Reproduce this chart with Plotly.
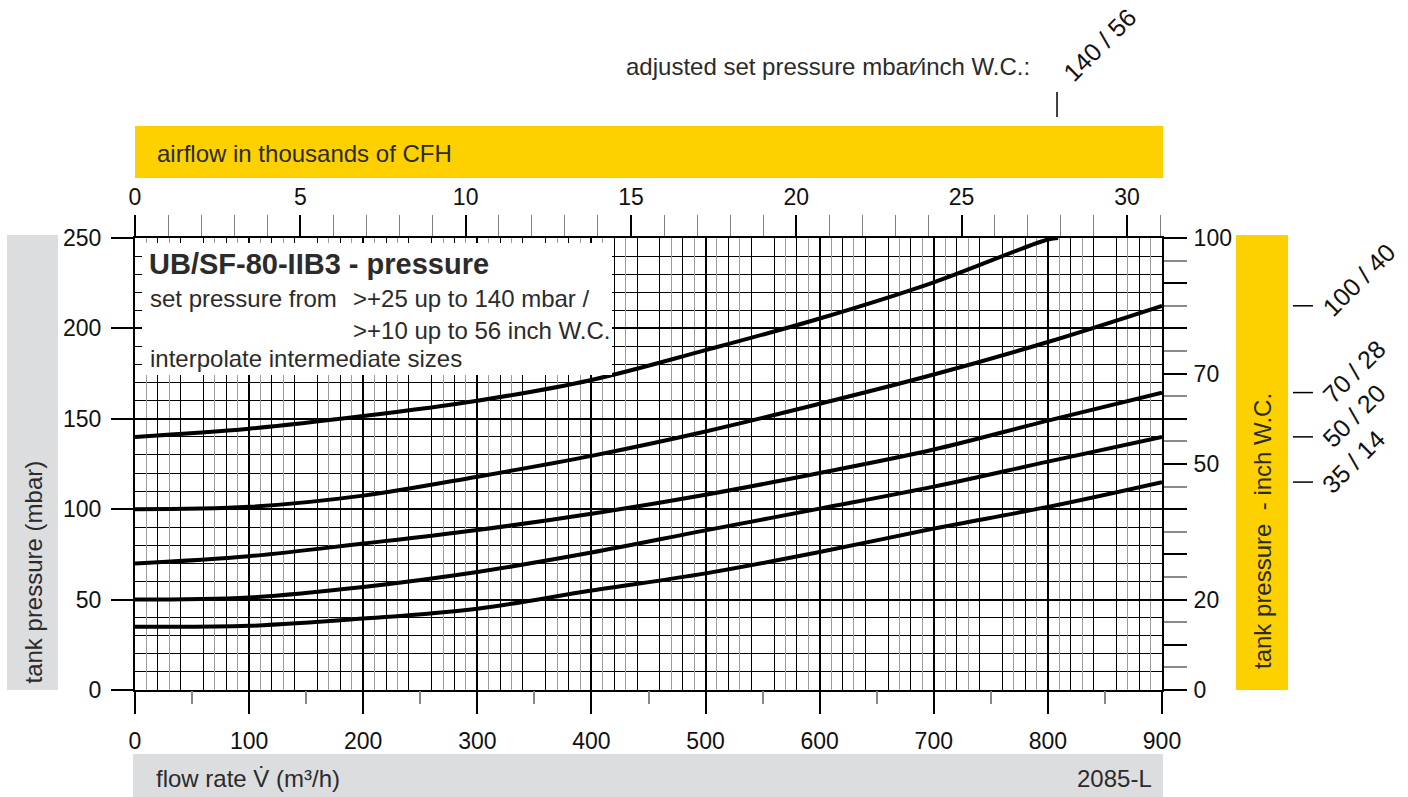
import plotly.graph_objects as go

# ---------------- data ----------------
flow = [0, 100, 200, 300, 400, 500, 600, 700, 800, 900]          # m³/h
flow_140 = [0, 100, 200, 300, 400, 500, 600, 700, 800, 809]
p140 = [140, 144.5, 151.5, 160, 171.5, 188, 205.5, 225.5, 249.2, 250]
p100 = [100, 101.3, 107.5, 118, 129.5, 143, 158.3, 174.5, 192.5, 212.5]
p70 = [70, 74, 81, 88.5, 97.5, 108, 120, 133, 149, 164.5]
p50 = [50, 51.2, 57, 65.3, 76, 88.3, 100.3, 112.5, 126.3, 140]
p35 = [35, 35.5, 39.5, 45, 55, 64.5, 76.3, 89.3, 101.3, 115]

set_mbar = [140, 100, 70, 50, 35]
set_inch = [56, 40, 28, 20, 14]

cfh_max = 31.06                      # thousands of CFH at 900 m³/h (as drawn)
inch_tickvals = list(range(0, 101, 10))
inch_ticktext = ['0', '', '20', '', '', '50', '', '70', '', '', '100']

# ---------------- geometry helpers (layout only) ----------------
FW, FH = 1408, 797
L, R, T, B = 135, 1162, 238, 690
W, H = R - L, B - T


def px(xp):
    return (xp - L) / W


def py(yp):
    return (B - yp) / H


FONT = "Liberation Sans, Arial, sans-serif"
TXT = "#2b2b2b"
YEL = "#FDD100"
GRY = "#DCDDDF"
TS = 23      # tick label size
LS = 24      # label size

fig = go.Figure()

series = [(flow_140, p140), (flow, p100), (flow, p70), (flow, p50), (flow, p35)]
for (xs, ys), m in zip(series, set_mbar):
    fig.add_trace(go.Scatter(x=xs, y=ys, mode="lines", name=f"{m} mbar",
                             line=dict(color="black", width=4, shape="spline"),
                             hoverinfo="skip", showlegend=False))

# dummy traces so the overlay axes are drawn
fig.add_trace(go.Scatter(x=[0], y=[0], xaxis="x2", yaxis="y2", mode="markers",
                         marker=dict(opacity=0), hoverinfo="skip", showlegend=False))
fig.add_trace(go.Scatter(x=[0], y=[0], xaxis="x3", yaxis="y", mode="markers",
                         marker=dict(opacity=0), hoverinfo="skip", showlegend=False))

tickfont = dict(family=FONT, size=TS, color="#111")

fig.update_layout(
    width=FW, height=FH,
    margin=dict(l=L, r=FW - R, t=T, b=FH - B, pad=0),
    paper_bgcolor="white", plot_bgcolor="white",
    showlegend=False, hovermode=False,
    font=dict(family=FONT, size=LS, color=TXT),
    xaxis=dict(
        range=[0, 900], dtick=100, tick0=0,
        ticks="outside", ticklen=22, tickwidth=2, tickcolor="black",
        showline=True, linewidth=2, linecolor="black",
        showgrid=True, gridcolor="black", gridwidth=2, zeroline=False,
        minor=dict(tick0=0, dtick=20, showgrid=True, gridcolor="black",
                   gridwidth=1, ticks=""),
        tickfont=tickfont, ticklabelstandoff=7, fixedrange=True,
    ),
    xaxis3=dict(
        overlaying="x", anchor="y", side="bottom",
        range=[0, 900], tick0=50, dtick=100,
        ticks="outside", ticklen=13, tickwidth=1.5, tickcolor="#888",
        showticklabels=False, showgrid=False, showline=False, zeroline=False,
        minor=dict(tick0=10, dtick=20, showgrid=True, gridcolor="#9c9c9c",
                   gridwidth=1, ticks=""),
        fixedrange=True,
    ),
    xaxis2=dict(
        overlaying="x", anchor="y", side="top",
        range=[0, cfh_max], tick0=0, dtick=5,
        ticks="outside", ticklen=21, tickwidth=2, tickcolor="black",
        showline=True, linewidth=2, linecolor="black",
        showgrid=False, zeroline=False,
        minor=dict(tick0=0, dtick=1, ticks="outside", ticklen=21,
                   tickcolor="#808080", tickwidth=1, showgrid=False),
        tickfont=tickfont, ticklabelstandoff=1, fixedrange=True,
    ),
    yaxis=dict(
        range=[0, 250], dtick=50, tick0=0,
        ticks="outside", ticklen=22, tickwidth=2, tickcolor="black",
        showline=True, linewidth=2, linecolor="black",
        showgrid=True, gridcolor="black", gridwidth=2, zeroline=False,
        minor=dict(tick0=0, dtick=10, showgrid=True, gridcolor="black",
                   gridwidth=1, ticks=""),
        tickfont=tickfont, ticklabelstandoff=5, fixedrange=True,
    ),
    yaxis2=dict(
        overlaying="y", anchor="x2", side="right",
        range=[0, 100], tickmode="array",
        tickvals=inch_tickvals, ticktext=inch_ticktext,
        ticks="outside", ticklen=23, tickwidth=2, tickcolor="black",
        showline=True, linewidth=2, linecolor="black",
        showgrid=False, zeroline=False,
        minor=dict(tick0=5, dtick=10, ticks="outside", ticklen=23,
                   tickcolor="#8a8a8a", tickwidth=1.5, showgrid=False),
        tickfont=tickfont, ticklabelstandoff=2, fixedrange=True,
    ),
)

shapes = []
# bands
shapes.append(dict(type="rect", xref="paper", yref="paper",
                   x0=px(7), x1=px(58), y0=py(690), y1=py(235),
                   fillcolor=GRY, line=dict(width=0), layer="below"))
shapes.append(dict(type="rect", xref="paper", yref="paper",
                   x0=px(1236), x1=px(1288), y0=py(690), y1=py(235),
                   fillcolor=YEL, line=dict(width=0), layer="below"))
shapes.append(dict(type="rect", xref="paper", yref="paper",
                   x0=px(135), x1=px(1163), y0=py(178), y1=py(126),
                   fillcolor=YEL, line=dict(width=0), layer="below"))
shapes.append(dict(type="rect", xref="paper", yref="paper",
                   x0=px(133), x1=px(1163), y0=py(797), y1=py(754),
                   fillcolor=GRY, line=dict(width=0), layer="below"))
# white info box over the grid
shapes.append(dict(type="rect", xref="paper", yref="paper",
                   x0=px(142), x1=px(612), y0=py(375), y1=py(243),
                   fillcolor="white", line=dict(width=0), layer="above"))

# end-of-curve markers on the right
end_vals = [p100[-1], p70[-1], p50[-1], p35[-1]]
for v in end_vals:
    shapes.append(dict(type="line", xref="paper", yref="y",
                       x0=px(1293), x1=px(1313), y0=v, y1=v,
                       line=dict(color="black", width=1.5)))
# marker where the 140 curve leaves the top
shapes.append(dict(type="line", xref="x", yref="paper",
                   x0=flow_140[-1] - 1, x1=flow_140[-1] - 1, y0=py(117), y1=py(92),
                   line=dict(color="black", width=1.5)))

fig.update_layout(shapes=shapes)

ann = []


def A(text, x, y, **kw):
    d = dict(text=text, x=x, y=y, xref="paper", yref="paper", showarrow=False,
             font=dict(family=FONT, size=LS, color=TXT))
    d.update(kw)
    ann.append(d)


A("<b>UB/SF-80-IIB3 - pressure</b>", px(147), py(264), xanchor="left", yanchor="middle",
  font=dict(family=FONT, size=29, color=TXT))
A("set pressure from", px(148), py(298), xanchor="left", yanchor="middle")
A(f"&gt;+25 up to {set_mbar[0]} mbar /", px(351), py(298), xanchor="left", yanchor="middle")
A(f"&gt;+10 up to {set_inch[0]} inch W.C.", px(351), py(330), xanchor="left", yanchor="middle")
A("interpolate intermediate sizes", px(148), py(358), xanchor="left", yanchor="middle")

A("adjusted set pressure mbar\u2215inch W.C.:", px(624), py(67), xanchor="left", yanchor="middle")
A("airflow in thousands of CFH", px(155), py(153), xanchor="left", yanchor="middle")
A("flow rate V\u0307 (m\u00b3/h)", px(154), py(778), xanchor="left", yanchor="middle")
A("2085-L", px(1154), py(778), xanchor="right", yanchor="middle")
A("tank pressure (mbar)", px(33), py(686), xanchor="center", yanchor="bottom", textangle=-90)
A("tank pressure \u00a0- inch W.C.", px(1262), py(671), xanchor="center", yanchor="bottom",
  textangle=-90)

# rotated set pressure labels
A(f"{set_mbar[0]} / {set_inch[0]}", px(1055), py(90), xanchor="left", yanchor="bottom",
  textangle=-45, font=dict(family=FONT, size=25, color="#111"))
for v, m, i in zip(end_vals, set_mbar[1:], set_inch[1:]):
    ann.append(dict(text=f"{m} / {i}", x=px(1314), y=v, xref="paper", yref="y",
                    yshift=-19, showarrow=False, xanchor="left", yanchor="bottom",
                    textangle=-45, font=dict(family=FONT, size=25, color="#111")))

fig.update_layout(annotations=ann)

fig.write_html("out.html")
